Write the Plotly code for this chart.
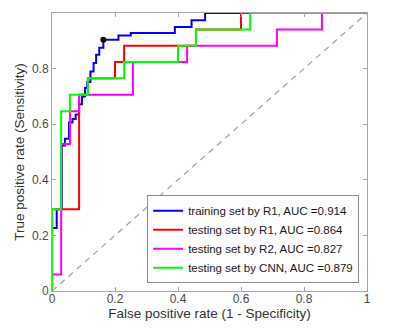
import plotly.graph_objects as go

# ROC points (FPR, TPR), drawn as step curves
train_r1_fpr = [0, 0, 0.015, 0.031, 0.041, 0.054, 0.065, 0.075, 0.086, 0.095, 0.105,
                0.112, 0.122, 0.132, 0.140, 0.150, 0.163, 0.211, 0.250, 0.390, 0.443, 0.486, 1.0]
train_r1_tpr = [0, 0.227, 0.294, 0.523, 0.548, 0.606, 0.619, 0.635, 0.672, 0.700, 0.730,
                0.752, 0.790, 0.820, 0.850, 0.875, 0.904, 0.919, 0.928, 0.950, 0.974, 1.0, 1.0]

test_r1_fpr = [0, 0, 0.086, 0.114, 0.200, 0.229, 0.457, 0.600, 1.0]
test_r1_tpr = [0, 0.294, 0.706, 0.765, 0.824, 0.882, 0.941, 1.0, 1.0]

test_r2_fpr = [0, 0, 0.029, 0.057, 0.086, 0.257, 0.429, 0.714, 0.857, 1.0]
test_r2_tpr = [0, 0.059, 0.529, 0.647, 0.706, 0.824, 0.882, 0.941, 1.0, 1.0]

test_cnn_fpr = [0, 0, 0.029, 0.057, 0.114, 0.229, 0.400, 0.457, 0.629, 1.0]
test_cnn_tpr = [0, 0.294, 0.647, 0.706, 0.765, 0.824, 0.882, 0.941, 1.0, 1.0]

operating_point = [0.163, 0.904]
chance_x = [0, 1]
chance_y = [0, 1]

names = ["training set by R1, AUC =0.914",
         "testing set by R1, AUC =0.864",
         "testing set by R2, AUC =0.827",
         "testing set by CNN, AUC =0.879"]
colors = ["#0000ff", "#ff0000", "#ff00ff", "#00ff00"]

fig = go.Figure()
fig.add_trace(go.Scatter(x=chance_x, y=chance_y, mode="lines",
                         line=dict(color="#a0a0a0", width=1.2, dash="6px,5px"),
                         showlegend=False, hoverinfo="skip"))
series = [(train_r1_fpr, train_r1_tpr), (test_r1_fpr, test_r1_tpr),
          (test_r2_fpr, test_r2_tpr), (test_cnn_fpr, test_cnn_tpr)]
for (xs, ys), nm, c in zip(series, names, colors):
    fig.add_trace(go.Scatter(x=xs, y=ys, mode="lines", name=nm,
                             line=dict(color=c, width=2, shape="hv")))
fig.add_trace(go.Scatter(x=[operating_point[0]], y=[operating_point[1]], mode="markers",
                         marker=dict(color="black", size=6), showlegend=False))

axis_common = dict(range=[0, 1], dtick=0.2, tick0=0, showgrid=False, zeroline=False,
                   showline=True, linecolor="#a6a6a6", linewidth=1, mirror="ticks",
                   ticks="inside", ticklen=4, tickcolor="#a6a6a6", automargin=False,
                   tickfont=dict(family="Liberation Sans, Arial", size=12, color="#4a4a4a"))

# the page body adds an 8px offset; the figure is sized to fill the rest of the window
fig.update_layout(
    width=392, height=323,
    margin=dict(l=44, r=33, t=5, b=40),
    paper_bgcolor="white", plot_bgcolor="white",
    font=dict(family="Liberation Sans, Arial", color="#333333"),
    xaxis=dict(**axis_common, ticklabelstandoff=-3,
               title=dict(text="False positive rate (1 - Specificity)",
                          font=dict(size=13.5, color="#333333"), standoff=0)),
    yaxis=dict(**axis_common,
               title=dict(text="True positive rate (Sensitivity)",
                          font=dict(size=13.5, color="#333333"), standoff=4)),
    legend=dict(x=0.975, y=0.028, xanchor="right", yanchor="bottom",
                bgcolor="white", bordercolor="#8c8c8c", borderwidth=1,
                font=dict(size=11.5, color="#1a1a1a"),
                tracegroupgap=0, itemwidth=30),
    showlegend=True,
)

fig.write_html("out.html")
